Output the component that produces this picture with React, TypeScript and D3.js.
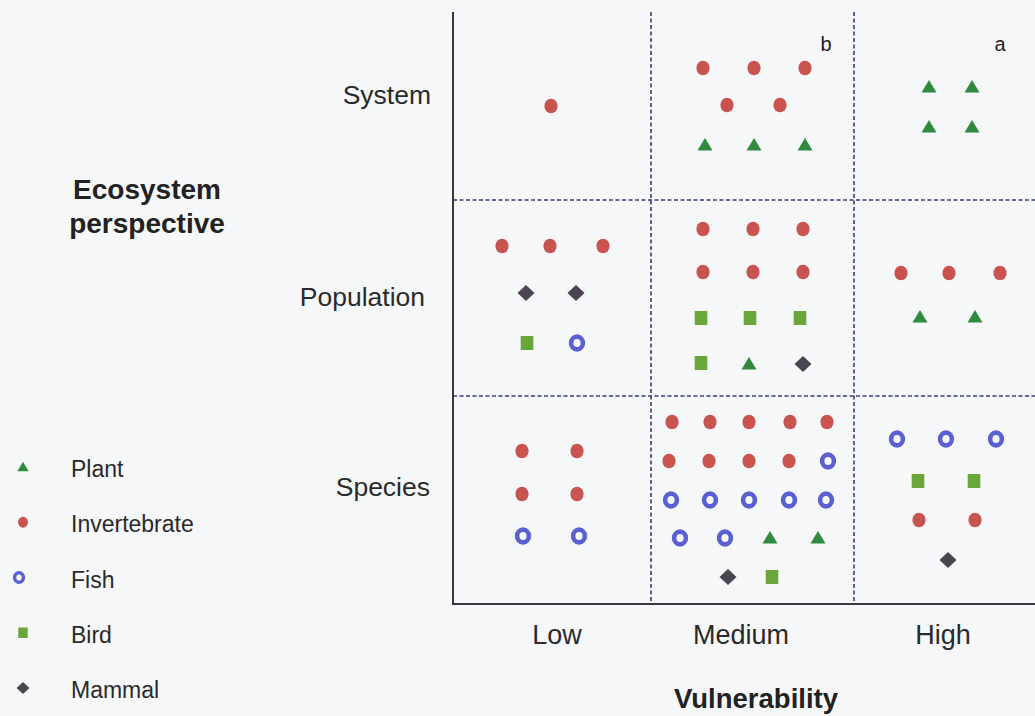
import React from "react";
import * as d3 from "d3";

// ---- data (grid units: x = vulnerability axis, y = ecosystem perspective axis) ----
type Kind = "Plant" | "Invertebrate" | "Fish" | "Bird" | "Mammal";

const legendItems: Kind[] = ["Plant", "Invertebrate", "Fish", "Bird", "Mammal"];
const vulnerabilityLabels = ["Low", "Medium", "High"];
const vulnerabilityTickPos = [5.2, 14.4, 24.5];
const perspectiveLabels = ["System", "Population", "Species"];
const perspectiveTickPos = [25.45, 15.35, 5.85];
const perspectiveLabelRight = [431, 425, 430];
const vulnerabilityBreaks = [9.9, 20.05];
const perspectiveBreaks = [20.2, 10.4];
const panelLetters = [
  { label: "b", x: 18.65, y: 28.0 },
  { label: "a", x: 27.35, y: 28.0 },
];

// System row
const systemMarks: [Kind, number, number][] = [
  ["Invertebrate", 4.9, 24.9],
  ["Invertebrate", 12.5, 26.8], ["Invertebrate", 15.05, 26.8], ["Invertebrate", 17.6, 26.8],
  ["Invertebrate", 13.7, 24.95], ["Invertebrate", 16.35, 24.95],
  ["Plant", 12.6, 22.95], ["Plant", 15.05, 22.95], ["Plant", 17.6, 22.95],
  ["Plant", 23.8, 25.85], ["Plant", 25.95, 25.85], ["Plant", 23.8, 23.85], ["Plant", 25.95, 23.85],
];

// Population row
const populationMarks: [Kind, number, number][] = [
  ["Invertebrate", 2.45, 17.9], ["Invertebrate", 4.85, 17.9], ["Invertebrate", 7.5, 17.9],
  ["Mammal", 3.65, 15.55], ["Mammal", 6.15, 15.55],
  ["Bird", 3.7, 13.05], ["Fish", 6.2, 13.05],
  ["Invertebrate", 12.5, 18.75], ["Invertebrate", 15.0, 18.75], ["Invertebrate", 17.5, 18.75],
  ["Invertebrate", 12.5, 16.6], ["Invertebrate", 15.0, 16.6], ["Invertebrate", 17.5, 16.6],
  ["Bird", 12.4, 14.3], ["Bird", 14.85, 14.3], ["Bird", 17.35, 14.3],
  ["Bird", 12.4, 12.05], ["Plant", 14.8, 12.0], ["Mammal", 17.5, 12.0],
  ["Invertebrate", 22.4, 16.55], ["Invertebrate", 24.8, 16.55], ["Invertebrate", 27.35, 16.55],
  ["Plant", 23.35, 14.35], ["Plant", 26.1, 14.35],
];

// Species row
const speciesMarks: [Kind, number, number][] = [
  ["Invertebrate", 3.45, 7.65], ["Invertebrate", 6.2, 7.65],
  ["Invertebrate", 3.45, 5.5], ["Invertebrate", 6.2, 5.5],
  ["Fish", 3.5, 3.4], ["Fish", 6.3, 3.4],
  ["Invertebrate", 10.95, 9.1], ["Invertebrate", 12.85, 9.1], ["Invertebrate", 14.8, 9.1],
  ["Invertebrate", 16.85, 9.1], ["Invertebrate", 18.7, 9.1],
  ["Invertebrate", 10.8, 7.15], ["Invertebrate", 12.8, 7.15], ["Invertebrate", 14.8, 7.15],
  ["Invertebrate", 16.8, 7.15], ["Fish", 18.75, 7.15],
  ["Fish", 10.9, 5.2], ["Fish", 12.85, 5.2], ["Fish", 14.8, 5.2], ["Fish", 16.8, 5.2], ["Fish", 18.65, 5.2],
  ["Fish", 11.35, 3.3], ["Fish", 13.6, 3.3], ["Plant", 15.85, 3.3], ["Plant", 18.25, 3.3],
  ["Mammal", 13.75, 1.35], ["Bird", 15.95, 1.35],
  ["Fish", 22.2, 8.25], ["Fish", 24.65, 8.25], ["Fish", 27.15, 8.25],
  ["Bird", 23.25, 6.15], ["Bird", 26.05, 6.15],
  ["Invertebrate", 23.3, 4.2], ["Invertebrate", 26.1, 4.2],
  ["Mammal", 24.75, 2.2],
];

const colors: Record<Kind, string> = {
  Plant: "#2f8a3e",
  Invertebrate: "#c9534e",
  Fish: "#5a60d2",
  Bird: "#6ba63d",
  Mammal: "#4a4550",
};

const W = 1035;
const H = 716;
const FONT = "'Liberation Sans', Arial, Helvetica, sans-serif";

function Marker({ kind, cx, cy, s }: { kind: Kind; cx: number; cy: number; s: number }) {
  const c = colors[kind];
  switch (kind) {
    case "Plant": {
      const hw = 7.5 * s, top = 7 * s, bot = 5.5 * s;
      return <path d={`M${cx},${cy - top}L${cx + hw},${cy + bot}L${cx - hw},${cy + bot}Z`} fill={c} />;
    }
    case "Invertebrate":
      return <ellipse cx={cx} cy={cy} rx={6.6 * s} ry={7.3 * s} fill={c} />;
    case "Fish":
      return <ellipse cx={cx} cy={cy} rx={5.9 * s} ry={6.4 * s} fill="none" stroke={c} strokeWidth={4.6 * s} />;
    case "Bird":
      return <rect x={cx - 6.3 * s} y={cy - 7 * s} width={12.6 * s} height={14 * s} fill={c} />;
    case "Mammal": {
      const hx = 8.5 * s, hy = 8 * s;
      return <path d={`M${cx},${cy - hy}L${cx + hx},${cy}L${cx},${cy + hy}L${cx - hx},${cy}Z`} fill={c} />;
    }
  }
}

export default function App() {
  const x = d3.scaleLinear().domain([0, 30]).range([453, 1053]);
  const y = d3.scaleLinear().domain([0, 30]).range([604, 4]);
  const yTop = y(29.6);
  const legendY = d3.scalePoint<Kind>().domain(legendItems).range([467, 688]);

  const allMarks = [...systemMarks, ...populationMarks, ...speciesMarks];

  return (
    <svg width={W} height={H} style={{ position: "absolute", left: 0, top: 0, display: "block" }}
      fontFamily={FONT}>
      <rect x={0} y={0} width={W} height={H} fill="#f6f7f9" />

      {/* dashed grid */}
      {vulnerabilityBreaks.map((b, i) => (
        <line key={"vb" + i} x1={x(b)} x2={x(b)} y1={yTop} y2={y(0)}
          stroke="#3d3a7a" strokeWidth={1.6} strokeDasharray="4,2.5" />
      ))}
      {perspectiveBreaks.map((b, i) => (
        <line key={"pb" + i} x1={x(0)} x2={W} y1={y(b)} y2={y(b)}
          stroke="#3d3a7a" strokeWidth={1.6} strokeDasharray="4,2.5" />
      ))}

      {/* axes */}
      <line x1={x(0)} x2={x(0)} y1={yTop} y2={y(0) + 1} stroke="#3a3340" strokeWidth={2} />
      <line x1={x(0)} x2={W} y1={y(0)} y2={y(0)} stroke="#3a3340" strokeWidth={2} />

      {/* markers */}
      {allMarks.map(([k, mx, my], i) => (
        <Marker key={"m" + i} kind={k} cx={x(mx)} cy={y(my)} s={1} />
      ))}

      {/* panel letters */}
      {panelLetters.map((p) => (
        <text key={p.label} x={x(p.x)} y={y(p.y)} fontSize={20} fill="#1e1e1e"
          textAnchor="middle" dominantBaseline="central">{p.label}</text>
      ))}

      {/* category labels */}
      {perspectiveLabels.map((l, i) => (
        <text key={l} x={perspectiveLabelRight[i]} y={y(perspectiveTickPos[i])} fontSize={26.5} fill="#2a2a2a"
          textAnchor="end" dominantBaseline="central">{l}</text>
      ))}
      {vulnerabilityLabels.map((l, i) => (
        <text key={l} x={x(vulnerabilityTickPos[i])} y={644} fontSize={27} fill="#2a2a2a"
          textAnchor="middle">{l}</text>
      ))}

      {/* axis titles */}
      <text x={756} y={708} fontSize={27.5} fontWeight="bold" fill="#222" textAnchor="middle">Vulnerability</text>
      <text x={147} y={199} fontSize={28} fontWeight="bold" fill="#222" textAnchor="middle">Ecosystem</text>
      <text x={147} y={233} fontSize={28} fontWeight="bold" fill="#222" textAnchor="middle">perspective</text>

      {/* legend */}
      {legendItems.map((k) => (
        <g key={k}>
          <Marker kind={k} cx={k === "Fish" ? 19 : 23} cy={legendY(k)!} s={0.75} />
          <text x={71} y={legendY(k)! + 2} fontSize={23} fill="#2a2a2a"
            dominantBaseline="central">{k}</text>
        </g>
      ))}
    </svg>
  );
}
